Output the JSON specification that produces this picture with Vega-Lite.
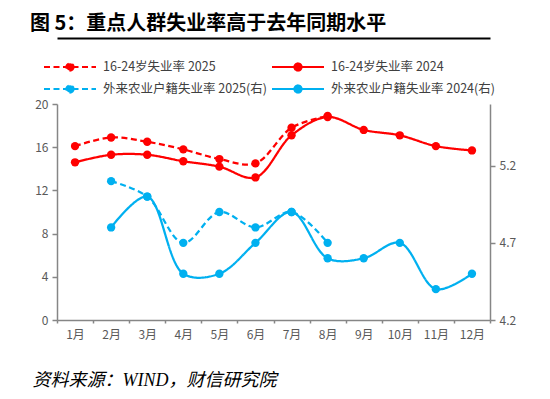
{
  "$schema": "https://vega.github.io/schema/vega-lite/v6.json",
  "width": 433,
  "height": 216,
  "autosize": {"type": "none"},
  "padding": {"left": 57, "top": 104, "right": 60, "bottom": 79},
  "background": "white",
  "title": {
    "text": "图 5：重点人群失业率高于去年同期水平",
    "anchor": "start",
    "frame": "group",
    "dx": -27,
    "fontSize": 20,
    "fontWeight": "bold",
    "font": "Noto Sans CJK SC",
    "color": "#000000"
  },
  "data": {
    "values": [
      {"m": 1, "series": "16-24岁失业率 2025", "axis": "L", "value": 16.1},
      {"m": 2, "series": "16-24岁失业率 2025", "axis": "L", "value": 16.9},
      {"m": 3, "series": "16-24岁失业率 2025", "axis": "L", "value": 16.5},
      {"m": 4, "series": "16-24岁失业率 2025", "axis": "L", "value": 15.8},
      {"m": 5, "series": "16-24岁失业率 2025", "axis": "L", "value": 14.9},
      {"m": 6, "series": "16-24岁失业率 2025", "axis": "L", "value": 14.5},
      {"m": 7, "series": "16-24岁失业率 2025", "axis": "L", "value": 17.8},
      {"m": 8, "series": "16-24岁失业率 2025", "axis": "L", "value": 18.9},
      {"m": 1, "series": "16-24岁失业率 2024", "axis": "L", "value": 14.6},
      {"m": 2, "series": "16-24岁失业率 2024", "axis": "L", "value": 15.3},
      {"m": 3, "series": "16-24岁失业率 2024", "axis": "L", "value": 15.3},
      {"m": 4, "series": "16-24岁失业率 2024", "axis": "L", "value": 14.7},
      {"m": 5, "series": "16-24岁失业率 2024", "axis": "L", "value": 14.2},
      {"m": 6, "series": "16-24岁失业率 2024", "axis": "L", "value": 13.2},
      {"m": 7, "series": "16-24岁失业率 2024", "axis": "L", "value": 17.1},
      {"m": 8, "series": "16-24岁失业率 2024", "axis": "L", "value": 18.8},
      {"m": 9, "series": "16-24岁失业率 2024", "axis": "L", "value": 17.6},
      {"m": 10, "series": "16-24岁失业率 2024", "axis": "L", "value": 17.1},
      {"m": 11, "series": "16-24岁失业率 2024", "axis": "L", "value": 16.1},
      {"m": 12, "series": "16-24岁失业率 2024", "axis": "L", "value": 15.7},
      {"m": 2, "series": "外来农业户籍失业率 2025(右)", "axis": "R", "value": 5.1},
      {"m": 3, "series": "外来农业户籍失业率 2025(右)", "axis": "R", "value": 5.0},
      {"m": 4, "series": "外来农业户籍失业率 2025(右)", "axis": "R", "value": 4.7},
      {"m": 5, "series": "外来农业户籍失业率 2025(右)", "axis": "R", "value": 4.9},
      {"m": 6, "series": "外来农业户籍失业率 2025(右)", "axis": "R", "value": 4.8},
      {"m": 7, "series": "外来农业户籍失业率 2025(右)", "axis": "R", "value": 4.9},
      {"m": 8, "series": "外来农业户籍失业率 2025(右)", "axis": "R", "value": 4.7},
      {"m": 2, "series": "外来农业户籍失业率 2024(右)", "axis": "R", "value": 4.8},
      {"m": 3, "series": "外来农业户籍失业率 2024(右)", "axis": "R", "value": 5.0},
      {"m": 4, "series": "外来农业户籍失业率 2024(右)", "axis": "R", "value": 4.5},
      {"m": 5, "series": "外来农业户籍失业率 2024(右)", "axis": "R", "value": 4.5},
      {"m": 6, "series": "外来农业户籍失业率 2024(右)", "axis": "R", "value": 4.7},
      {"m": 7, "series": "外来农业户籍失业率 2024(右)", "axis": "R", "value": 4.9},
      {"m": 8, "series": "外来农业户籍失业率 2024(右)", "axis": "R", "value": 4.6},
      {"m": 9, "series": "外来农业户籍失业率 2024(右)", "axis": "R", "value": 4.6},
      {"m": 10, "series": "外来农业户籍失业率 2024(右)", "axis": "R", "value": 4.7},
      {"m": 11, "series": "外来农业户籍失业率 2024(右)", "axis": "R", "value": 4.4},
      {"m": 12, "series": "外来农业户籍失业率 2024(右)", "axis": "R", "value": 4.5}
    ]
  },
  "layer": [
    {
      "transform": [{"filter": "datum.axis == 'L'"}],
      "encoding": {
        "x": {
          "field": "m",
          "type": "ordinal",
          "scale": {"domain": [1, 2, 3, 4, 5, 6, 7, 8, 9, 10, 11, 12], "paddingInner": 0, "paddingOuter": 0},
          "axis": {
            "orient": "bottom",
            "labelExpr": "datum.label ? datum.label + '月' : ''",
            "labelAngle": 0,
            "tickBand": "extent",
            "tickSize": 3,
            "labelPadding": 6,
            "title": "资料来源：WIND，财信研究院",
            "titleFont": "Liberation Serif, Noto Sans CJK SC",
            "titleFontStyle": "italic",
            "titleFontWeight": "normal",
            "titleFontSize": 18,
            "titleColor": "#000000",
            "titleAnchor": "start",
            "titleAlign": "left",
            "titleBaseline": "alphabetic",
            "titleX": -25,
            "titleY": 65
          }
        },
        "y": {
          "field": "value",
          "type": "quantitative",
          "scale": {"domain": [0, 20], "nice": false},
          "axis": {"values": [0, 4, 8, 12, 16, 20], "title": null, "grid": false, "tickSize": 5, "labelPadding": 4}
        }
      },
      "layer": [
        {
          "mark": {"type": "line", "interpolate": "catmull-rom", "strokeWidth": 2.25},
          "encoding": {
            "color": {
              "field": "series",
              "type": "nominal",
              "scale": {
                "domain": ["16-24岁失业率 2025", "外来农业户籍失业率 2025(右)", "16-24岁失业率 2024", "外来农业户籍失业率 2024(右)"],
                "range": ["#FF0000", "#00B0F0", "#FF0000", "#00B0F0"]
              },
              "legend": {
                "orient": "none",
                "legendX": -14,
                "legendY": -45,
                "columns": 2,
                "columnPadding": 3,
                "rowPadding": 6,
                "clipHeight": 16,
                "title": null,
                "symbolType": "M-1,0H1M0.14,0A0.14,0.14,0,1,1,-0.14,0A0.14,0.14,0,1,1,0.14,0Z",
                "symbolSize": 2704,
                "symbolStrokeWidth": 2,
                "labelFont": "Noto Sans CJK SC",
                "labelFontSize": 12.5,
                "labelColor": "#404040",
                "labelOffset": 6,
                "labelLimit": 300,
                "encode": {
                  "symbols": {
                    "update": {
                      "fill": {"scale": "color", "field": "value"},
                      "stroke": {"scale": "color", "field": "value"},
                      "strokeDash": {"signal": "indexof(datum.value, '2025') >= 0 ? [5, 3] : [1, 0]"},
                      "opacity": {"value": 1}
                    }
                  }
                }
              }
            },
            "strokeDash": {
              "field": "series",
              "type": "nominal",
              "scale": {
                "domain": ["16-24岁失业率 2025", "外来农业户籍失业率 2025(右)", "16-24岁失业率 2024", "外来农业户籍失业率 2024(右)"],
                "range": [[6, 3.5], [6, 3.5], [1, 0], [1, 0]]
              },
              "legend": null
            }
          }
        },
        {
          "mark": {"type": "point", "filled": true, "size": 70, "opacity": 1},
          "encoding": {"color": {"field": "series", "type": "nominal"}}
        }
      ]
    },
    {
      "transform": [{"filter": "datum.axis == 'R'"}],
      "encoding": {
        "x": {
          "field": "m",
          "type": "ordinal",
          "axis": {"orient": "top", "offset": 66, "labels": false, "ticks": false, "title": null, "domainColor": "#000000", "domainWidth": 2}
        },
        "y": {
          "field": "value",
          "type": "quantitative",
          "scale": {"domain": [4.2, 5.6], "nice": false, "zero": false},
          "axis": {"orient": "right", "values": [4.2, 4.7, 5.2], "format": ".1f", "title": null, "grid": false, "tickSize": 5, "labelPadding": 4}
        }
      },
      "layer": [
        {
          "mark": {"type": "line", "interpolate": "catmull-rom", "strokeWidth": 2.25},
          "encoding": {
            "color": {"field": "series", "type": "nominal"},
            "strokeDash": {"field": "series", "type": "nominal", "legend": null}
          }
        },
        {
          "mark": {"type": "point", "filled": true, "size": 70, "opacity": 1},
          "encoding": {"color": {"field": "series", "type": "nominal"}}
        }
      ]
    }
  ],
  "resolve": {"scale": {"y": "independent"}, "axis": {"x": "independent"}},
  "config": {
    "view": {"stroke": null},
    "axis": {
      "domainColor": "#868686",
      "domainWidth": 1.5,
      "tickColor": "#868686",
      "tickWidth": 1.5,
      "labelColor": "#595959",
      "labelFont": "Noto Sans CJK SC",
      "labelFontSize": 12
    }
  }
}
